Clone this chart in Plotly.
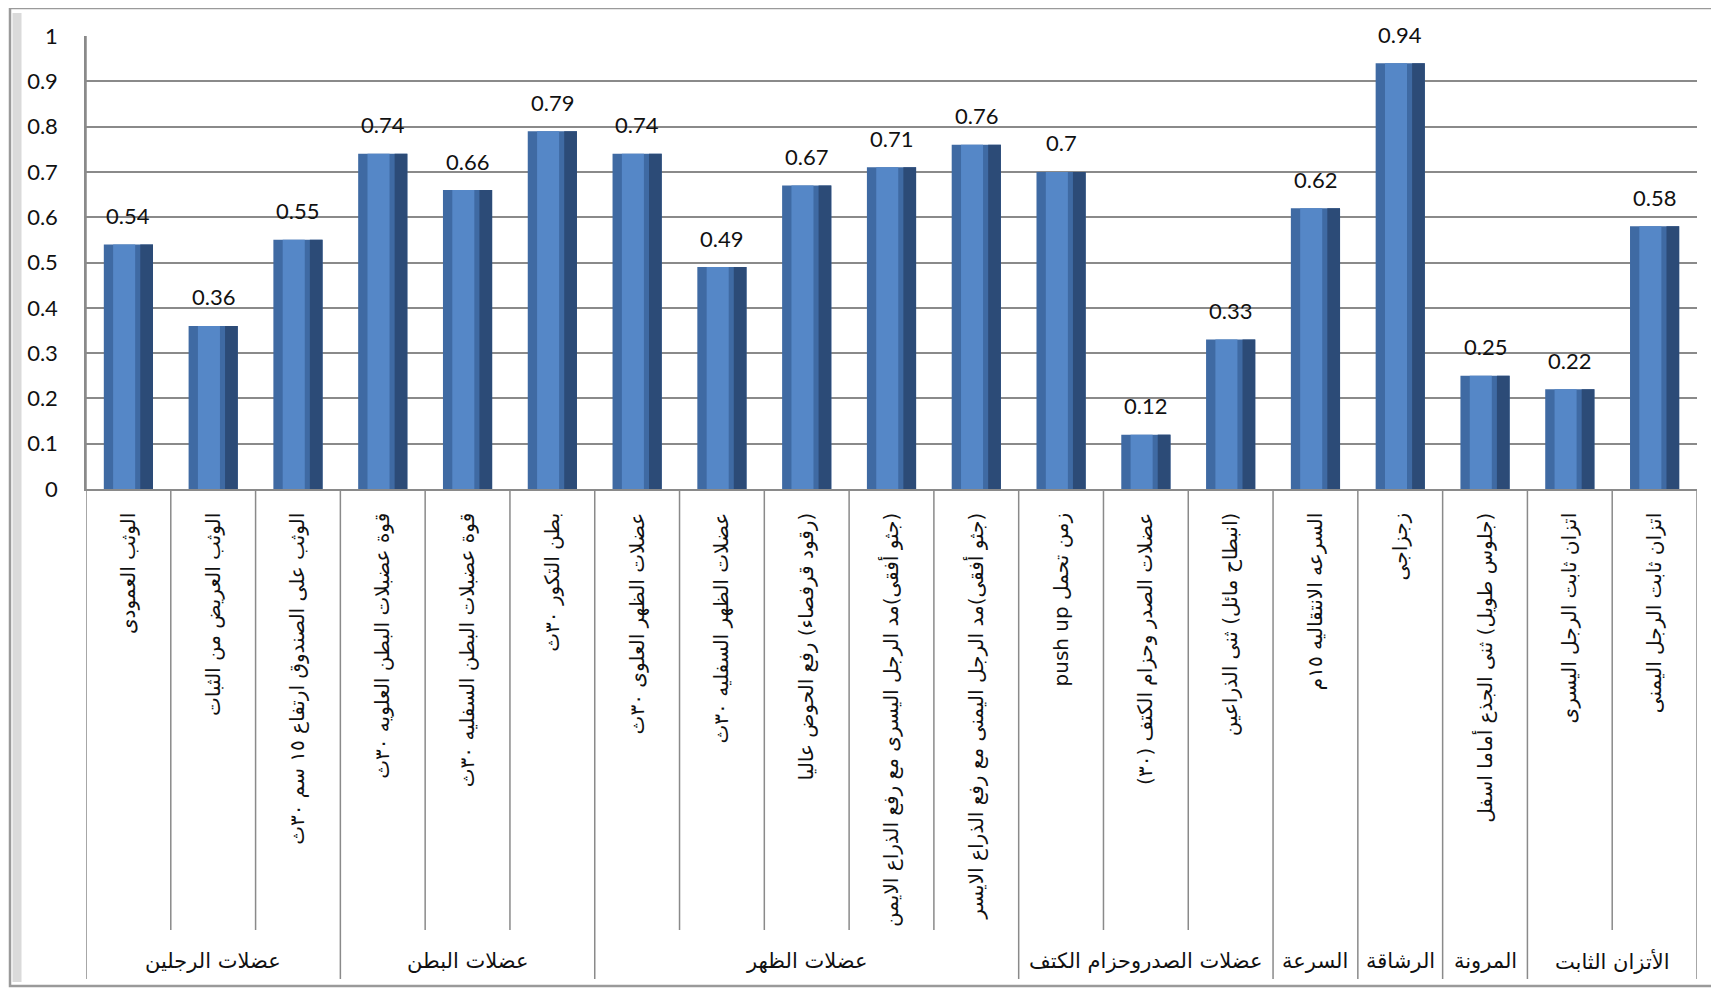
import plotly.graph_objects as go

categories = [
    "الوثب العمودى",
    "الوثب العريض من الثبات",
    "الوثب على الصندوق ارتفاع ١٥ سم ٣٠ث",
    "قوة عضبلات البطن العلويه ٣٠ث",
    "قوة عضبلات البطن السفليه ٣٠ث",
    "بطن التكور ٣٠ث",
    "عضلات الظهر العلوى ٣٠ث",
    "عضلات الظهر السفليه ٣٠ث",
    "(رقود قرفصاء) رفع الحوض عاليا",
    "(جثو أفقى)مد الرجل اليسرى مع رفع الذراع الايمن",
    "(جثو أفقى)مد الرجل اليمنى مع رفع الذراع الايسر",
    "زمن تحمل push up",
    "عضلات الصدر وحزام الكتف (٣٠)",
    "(انبطاح مائل) ثنى الذراعين",
    "السرعه الانتقاليه ١٥م",
    "زجزاجى",
    "(جلوس طويل) ثنى الجذع أماما اسفل",
    "اتزان ثابت الرجل اليسرى",
    "اتزان ثابت الرجل اليمنى",
]
values = [0.54, 0.36, 0.55, 0.74, 0.66, 0.79, 0.74, 0.49, 0.67, 0.71,
          0.76, 0.7, 0.12, 0.33, 0.62, 0.94, 0.25, 0.22, 0.58]
groups = ["عضلات الرجلين", "عضلات البطن", "عضلات الظهر",
          "عضلات الصدروحزام الكتف", "السرعة", "الرشاقة", "المرونة",
          "الأتزان الثابت"]
group_sizes = [3, 3, 5, 3, 1, 1, 1, 2]
y_ticks = [0, 0.1, 0.2, 0.3, 0.4, 0.5, 0.6, 0.7, 0.8, 0.9, 1]

# page body has an 8px margin; work in window pixels
OFF = 8
W, H = 1719 - OFF, 989 - OFF
L_WIN, R_WIN, T_WIN, Z_WIN = 86, 1697, 36, 489
ML, MT = L_WIN - OFF, T_WIN - OFF
MR = W - (R_WIN - OFF)
MB = H - (Z_WIN - OFF)
pw, ph = R_WIN - L_WIN, Z_WIN - T_WIN


def py(pix):  # window pixel row -> paper y
    return (Z_WIN - pix) / ph


def px(pix):  # window pixel col -> paper x
    return (pix - L_WIN) / pw


def rtl(s):
    return "\u202b" + s + "\u202c"


NUM_FONT = "Lato, Carlito, 'Open Sans', sans-serif"
AR_FONT = "'DejaVu Sans', 'Noto Sans', sans-serif"
GRID = "#8A8A8A"

fig = go.Figure()
# bevelled bar look: base + right shade + centre highlight
fig.add_trace(go.Bar(x=categories, y=values, width=0.58, offset=-0.29,
                     marker=dict(color="#3F6AA3", line=dict(width=0)),
                     hoverinfo="x+y"))
fig.add_trace(go.Bar(x=categories, y=values, width=0.15, offset=0.14,
                     marker=dict(color="#2C4B77", line=dict(width=0)),
                     hoverinfo="skip"))
fig.add_trace(go.Bar(x=categories, y=values, width=0.26, offset=-0.18,
                     marker=dict(color="#5587C7", line=dict(width=0)),
                     hoverinfo="skip"))

for c, v in zip(categories, values):
    fig.add_annotation(x=c, y=v, text=str(v), showarrow=False, yshift=29,
                       font=dict(family=NUM_FONT, size=22, color="#111"))

shapes = []
n = len(categories)
bounds = [0]
for s in group_sizes:
    bounds.append(bounds[-1] + s)
y_lab = py(930)
y_bot = py(979)
for i in range(n + 1):
    is_group = i in bounds
    shapes.append(dict(type="line", xref="x", yref="paper",
                       x0=i - 0.5, x1=i - 0.5, y0=1 if i == 0 else 0,
                       y1=y_bot if is_group else y_lab,
                       line=dict(color=GRID, width=1.5)))
for k, g in enumerate(groups):
    xc = (bounds[k] + bounds[k + 1] - 1) / 2
    fig.add_annotation(x=xc, xref="x", y=py(961), yref="paper", text=rtl(g),
                       showarrow=False, yanchor="middle", xanchor="center",
                       font=dict(family=AR_FONT, size=21, color="#111"))
# outer chart frame
shapes.append(dict(type="rect", xref="paper", yref="paper",
                   x0=px(10), x1=px(1714), y0=py(8), y1=py(986),
                   line=dict(color="#9A9A9A", width=2.5), layer="below"))
shapes.append(dict(type="line", xref="paper", yref="paper",
                   x0=px(17), x1=px(17), y0=py(13), y1=py(982),
                   line=dict(color="#DADADA", width=9), layer="below"))

fig.update_layout(
    width=W, height=H,
    margin=dict(l=ML, r=MR, t=MT, b=MB),
    paper_bgcolor="white", plot_bgcolor="white",
    barmode="overlay", showlegend=False,
    shapes=shapes,
    xaxis=dict(type="category", tickangle=-90, ticks="", showgrid=False,
               showline=True, linecolor=GRID, linewidth=1.5,
               ticklabelstandoff=14,
               tickvals=categories, ticktext=[rtl(c) for c in categories],
               tickfont=dict(family=AR_FONT, size=20, color="#111"),
               range=[-0.5, n - 0.5]),
    yaxis=dict(range=[0, 1], tickvals=y_ticks, showgrid=True, gridcolor=GRID,
               gridwidth=1.5, showline=True, linecolor=GRID, linewidth=1.5,
               zeroline=False, ticks="", ticklabelstandoff=22,
               tickfont=dict(family=NUM_FONT, size=22, color="#111")),
)

fig.write_html("out.html")
